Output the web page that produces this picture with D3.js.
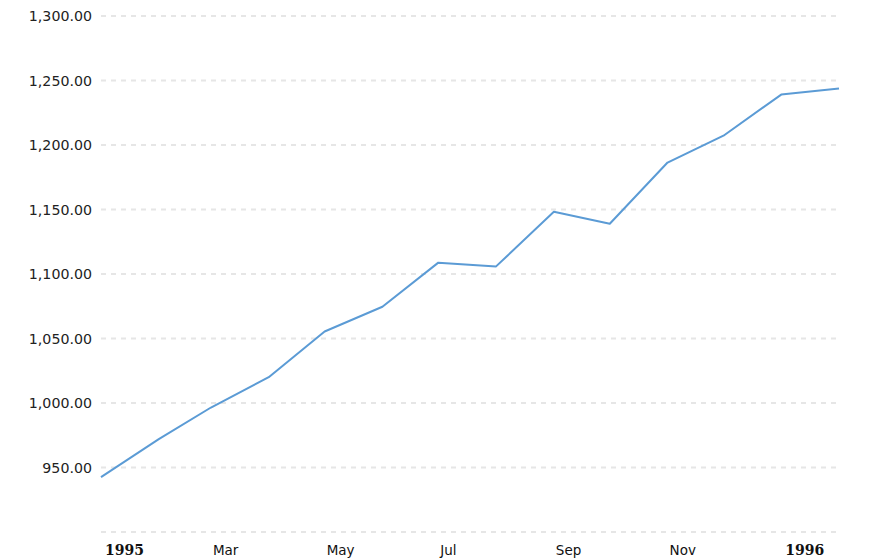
<!DOCTYPE html>
<html>
<head>
<meta charset="utf-8">
<style>
  body { margin: 0; background: #fff; }
</style>
</head>
<body>
<svg width="888" height="560"></svg>
<script src="https://d3js.org/d3.v7.min.js"></script>
<script>

// monthly closes, Jan 1995 - Feb 1996
var months = ["1995-01", "1995-02", "1995-03", "1995-04", "1995-05", "1995-06", "1995-07",
              "1995-08", "1995-09", "1995-10", "1995-11", "1995-12", "1996-01", "1996-02"];
var values = [942.6, 972.0, 996.5, 1020.0, 1055.4, 1074.6, 1108.8,
              1105.9, 1148.2, 1139.0, 1186.4, 1207.2, 1239.1, 1243.8];
var yTicks = [900, 950, 1000, 1050, 1100, 1150, 1200, 1250, 1300];

var svg = d3.select("svg");
var parse = d3.timeParse("%Y-%m");

var data = months.map(function(m, i) { return { date: parse(m), value: values[i] }; });

var x = d3.scaleTime()
    .domain(d3.extent(data, function(d) { return d.date; }))
    .range([101, 839]);

var y = d3.scaleLinear()
    .domain([900, 1300])
    .range([532, 16]);

// grid
svg.append("g")
  .selectAll("line")
  .data(yTicks)
  .enter().append("line")
    .attr("x1", 101)
    .attr("x2", 838)
    .attr("y1", function(d) { return y(d); })
    .attr("y2", function(d) { return y(d); })
    .attr("stroke", "#e6e6e6")
    .attr("stroke-width", 2)
    .attr("stroke-dasharray", "5,5");

// y labels (900 not labelled)
svg.append("g")
  .selectAll("text")
  .data(yTicks.filter(function(d) { return d > 900; }))
  .enter().append("text")
    .attr("x", 92)
    .attr("y", function(d) { return y(d); })
    .attr("dy", "0.36em")
    .attr("text-anchor", "end")
    .attr("font-family", "DejaVu Sans, Verdana, sans-serif")
    .attr("font-size", 14.2)
    .attr("fill", "#222")
    .text(d3.format(",.2f"));

// x labels
var isYear = function(d) { return d.getMonth() == 0; };
var xTicks = x.ticks(d3.timeMonth.every(2));
svg.append("g")
  .selectAll("text")
  .data(xTicks)
  .enter().append("text")
    .attr("x", function(d) { return x(d) + (isYear(d) ? 4 : 2); })
    .attr("y", 555)
    .attr("text-anchor", "start")
    .attr("fill", "#111")
    .attr("font-family", function(d) { return isYear(d) ? "DejaVu Serif, serif" : "DejaVu Sans, Verdana, sans-serif"; })
    .attr("font-weight", function(d) { return isYear(d) ? "bold" : "normal"; })
    .attr("font-size", function(d) { return isYear(d) ? 14 : 13.5; })
    .text(function(d) { return isYear(d) ? d3.timeFormat("%Y")(d) : d3.timeFormat("%b")(d); });

// line
var line = d3.line()
    .x(function(d) { return x(d.date); })
    .y(function(d) { return y(d.value); });

svg.append("path")
    .datum(data)
    .attr("fill", "none")
    .attr("stroke", "#5b9bd5")
    .attr("stroke-width", 2)
    .attr("stroke-linejoin", "round")
    .attr("d", line);

</script>
</body>
</html>
